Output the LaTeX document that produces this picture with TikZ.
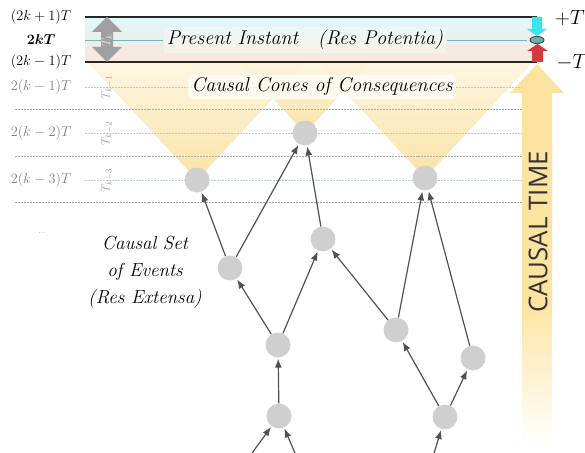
\documentclass[tikz,border=0pt]{standalone}
\usepackage{amsmath,bm}
\usepackage{fontspec}
\newfontfamily\timefont{Open Sans}
\usetikzlibrary{arrows.meta}
\definecolor{conecol}{RGB}{249,222,150}
\definecolor{conelight}{RGB}{253,244,222}
\definecolor{timecol}{RGB}{253,227,160}
\definecolor{cyanband}{RGB}{222,248,252}
\definecolor{peachband}{RGB}{250,230,218}
\definecolor{levelcol}{RGB}{185,200,212}
\definecolor{edgecol}{RGB}{80,80,80}
\definecolor{plusarrow}{RGB}{60,228,240}
\definecolor{minusarrow}{RGB}{212,55,60}
\definecolor{midcol}{RGB}{120,180,190}
\tikzset{
    event/.style={circle,fill=gray!38,minimum size=25pt,inner sep=0pt},
    causal/.style={draw=edgecol,line width=1.2pt,-{Latex[length=9pt,width=7pt]},shorten >=1pt},
    levelline/.style={draw=levelcol,line width=0.6pt,dash pattern=on 2pt off 1pt},
    midline/.style={draw=gray!65,line width=0.6pt,dash pattern=on 2pt off 1pt},
    klabel/.style={font=\fontsize{15}{15}\selectfont},
    tlabel/.style={rotate=90,text=gray!75,font=\fontsize{13}{13}\selectfont}
}

\begin{document}
\begin{tikzpicture}[x=1bp,y=-1bp]
    \useasboundingbox (0,0) rectangle (585,453);
    \shade[top color=cyanband,middle color=white,bottom color=peachband] (85,17) rectangle (537,62);
    \foreach \x/\y in {197/180,305/133,425/178}{
        \shade[top color=conelight,bottom color=conecol,opacity=0.85] (\x,\y)--({\x-0.93*(\y-62)},62)--({\x+0.93*(\y-62)},62)--cycle;
    }
    \fill[timecol] (522,300)--(522,93)--(510,93)--(537,64)--(564,93)--(552,93)--(552,300)--cycle;
    \shade[top color=timecol,bottom color=white] (522,299) rectangle (552,445);

    \foreach \y in {87,133,180} \draw[levelline] (85,\y)--(522,\y);
    \foreach \y in {109,156,202} \draw[midline] (15,\y)--(522,\y);

    \node[fill=white,fill opacity=0.7,text opacity=1,rounded corners=4pt,font=\fontsize{20}{24}\selectfont\itshape] (cones) at (322,87) {Causal Cones of Consequences};
    \node[fill=white,fill opacity=0.35,text opacity=1,font=\fontsize{20}{24}\selectfont\itshape] (present) at (305,40) {Present Instant\quad(Res Potentia)};
    \draw[midcol,line width=0.7pt] (85,40)--(present.west);
    \draw[midcol,line width=0.7pt] (present.east)--(527,40);
    \draw[line width=1.6pt,black!85] (85,17)--(537,17);
    \draw[line width=1.6pt,black!85] (85,62)--(537,62);

    \fill[gray!75] (107,17)--(92,32)--(101,32)--(101,47)--(92,47)--(107,62)--(122,47)--(113,47)--(113,32)--(122,32)--cycle;
    \node[tlabel,text=white!85!gray] (tk) at (107,40) {$T_k$};
    \node[tlabel] (tk1) at (107,87) {$T_{k-1}$};
    \node[tlabel] (tk2) at (107,133) {$T_{k-2}$};
    \node[tlabel] (tk3) at (107,180) {$T_{k-3}$};

    \node[klabel] (l1) at (41,17) {$(2k+1)T$};
    \node[klabel] (l2) at (41,40) {$\bm{2kT}$};
    \node[klabel] (l3) at (41,62) {$(2k-1)T$};
    \node[klabel,text=black!50] (l4) at (41,87) {$2(k-1)T$};
    \node[klabel,text=black!50] (l5) at (41,133) {$2(k-2)T$};
    \node[klabel,text=black!50] (l6) at (41,180) {$2(k-3)T$};
    \node[text=black!60,font=\scriptsize] (dots) at (42,233) {...};

    \fill[plusarrow] (532,17)--(542,17)--(542,29)--(547,29)--(537,36)--(527,29)--(532,29)--cycle;
    \fill[minusarrow] (532,62)--(543,62)--(543,51)--(548,51)--(537.5,44)--(527,51)--(532,51)--cycle;
    \draw[fill=teal!60,draw=black!70,line width=1pt] (537,40) ellipse [x radius=7,y radius=3.5];
    \node[font=\fontsize{22}{22}\selectfont] (plus) at (570,18) {$+T$};
    \node[font=\fontsize{22}{22}\selectfont] (minus) at (572,62) {$-T$};

    \node[rotate=90,text=black!80,font=\timefont\fontsize{26}{26}\selectfont] (time) at (538,232) {CAUSAL TIME};
    \node[align=center,font=\fontsize{19}{27}\selectfont\itshape] (set) at (145,272) {Causal Set\\of Events\\(Res Extensa)};

    \foreach \n/\x/\y in {A/197/180,B/305/133,C/425/178,D/230/268,E/323/239,F/278/345,G/396/330,H/473/358,I/279/416,J/445/417}
        \node[event] (\n) at (\x,\y) {};
    \coordinate (i1) at (247,460);
    \coordinate (i2) at (298,460);
    \coordinate (j1) at (432,460);
    \foreach \s/\t in {D/A,D/B,F/D,F/E,I/F,E/B,G/E,G/C,H/C,J/G,J/H,i1/I,i2/I,j1/J}
        \draw[causal] (\s)--(\t);
\end{tikzpicture}
\end{document}
